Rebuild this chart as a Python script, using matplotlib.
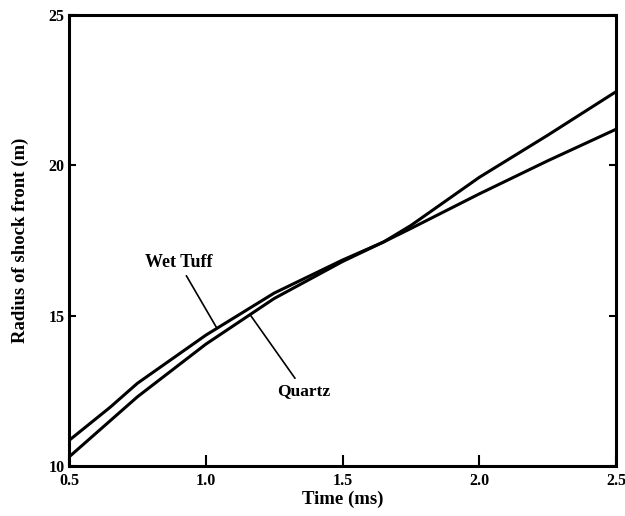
import numpy as np
import matplotlib
matplotlib.use("Agg")
import matplotlib.pyplot as plt

# shock front radius vs time for two media
time_ms = [0.5, 0.65, 0.75, 1.0, 1.25, 1.5, 1.65, 1.75, 2.0, 2.25, 2.5]
wet_tuff = [10.85, 11.95, 12.75, 14.35, 15.75, 16.85, 17.45, 17.9, 19.05, 20.15, 21.2]
quartz = [10.3, 11.5, 12.3, 14.05, 15.57, 16.8, 17.45, 18.0, 19.6, 21.0, 22.45]

xticks = [0.5, 1.0, 1.5, 2.0, 2.5]
xticklabels = ["0.5", "1.0", "1.5", "2.0", "2.5"]
yticks = [10, 15, 20, 25]

plt.rcParams['font.family'] = ['Liberation Serif', 'DejaVu Serif']
plt.rcParams['font.weight'] = 'bold'

fig = plt.figure(figsize=(6.25, 5.16), dpi=100)
ax = fig.add_axes([0.1104, 0.0969, 0.8752, 0.874])

ax.plot(time_ms, wet_tuff, color="black", linewidth=2.2, solid_capstyle="butt")
ax.plot(time_ms, quartz, color="black", linewidth=2.2, solid_capstyle="butt")

# leader lines from labels to curves
wt_x = 1.041
ax.annotate("Wet Tuff", xy=(wt_x, np.interp(wt_x, time_ms, wet_tuff)),
            xytext=(0.90, 16.5), ha="center", va="bottom", fontsize=13,
            fontweight="bold",
            arrowprops=dict(arrowstyle="-", color="black", lw=1.2,
                            shrinkA=2, shrinkB=0))
q_x = 1.162
ax.annotate("Quartz", xy=(q_x, np.interp(q_x, time_ms, quartz)),
            xytext=(1.36, 12.75), ha="center", va="top", fontsize=12.5,
            fontweight="bold",
            arrowprops=dict(arrowstyle="-", color="black", lw=1.2,
                            shrinkA=2, shrinkB=0))

ax.set_xlim(0.5, 2.5)
ax.set_ylim(10, 25)
ax.set_xticks(xticks)
ax.set_xticklabels(xticklabels)
ax.set_yticks(yticks)

ax.tick_params(axis="x", direction="in", length=8, width=1.5, pad=5,
               labelsize=11.5)
ax.tick_params(axis="y", direction="in", length=5, width=1.5, pad=3,
               labelsize=11.5, right=True)
for side in ax.spines.values():
    side.set_linewidth(2.2)

ax.set_xlabel("Time (ms)", fontsize=13.5, fontweight="bold", labelpad=1)
ax.set_ylabel("Radius of shock front (m)", fontsize=13.5, fontweight="bold",
              labelpad=14)

plt.savefig("out.png", dpi=100)
plt.close()
